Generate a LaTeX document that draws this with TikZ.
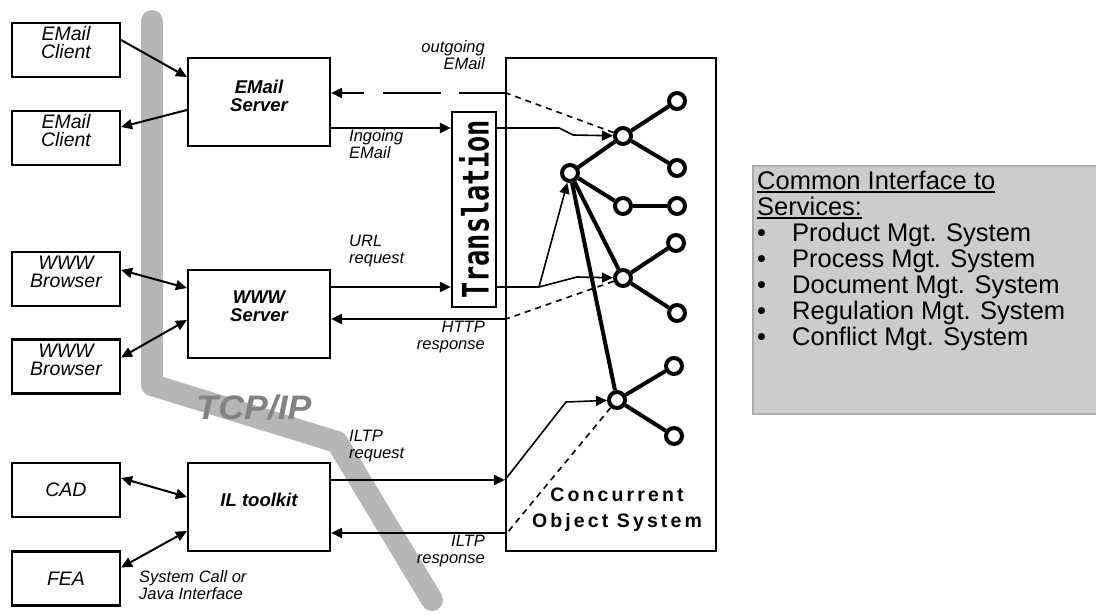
\documentclass[tikz,border=0pt]{standalone}
\usepackage{fontspec}
\setmainfont{Liberation Sans}
\newfontfamily\cosfont[LetterSpace=16]{Liberation Sans}
\newfontfamily\transfont{DejaVu Sans Mono}
\usetikzlibrary{arrows.meta,calc}
\definecolor{tcpband}{RGB}{182,182,182}
\definecolor{tcptext}{RGB}{130,130,130}
\definecolor{infofill}{RGB}{204,204,204}
\definecolor{infoline}{RGB}{172,172,172}
\newcommand{\ulin}[1]{\setbox0\hbox{#1}\rlap{\rule[-3.5pt]{\wd0}{2pt}}\box0}
\newcommand{\bul}{\makebox[35pt][l]{\textbullet}}

\begin{document}
\begin{tikzpicture}[
    x=1pt, y=-1pt,
    >={Triangle[length=11pt,width=10pt]},
    box/.style={draw, line width=2.2pt, inner sep=0pt, minimum width=108pt, minimum height=54pt},
    server/.style={box, minimum width=142pt, minimum height=88pt},
    boxtext/.style={inner sep=0pt, align=center, font=\fontsize{19.5}{18}\selectfont\itshape},
    srvtext/.style={inner sep=0pt, align=center, font=\fontsize{18.5}{18.5}\selectfont\bfseries\itshape},
    lbl/.style={inner sep=0pt, font=\fontsize{16.5}{17}\selectfont\itshape},
    arrow/.style={line width=2pt},
    link/.style={line width=1.6pt},
    dlink/.style={line width=1.6pt, dash pattern=on 6pt off 5pt},
    obj/.style={circle, draw, fill=white, line width=4pt, inner sep=0pt, minimum size=16pt},
    tree/.style={line width=4pt}
]
    \useasboundingbox (0,0) rectangle (1096,615);

    % TCP/IP backbone
    \draw[tcpband, line width=22pt, line cap=round, line join=round]
        (152,21) -- (152,385) -- (337,442) -- (432,600);
    \node[inner sep=0pt, text=tcptext, xscale=1.05, font=\fontsize{34}{34}\selectfont\bfseries\itshape] (tcp) at (254,408) {TCP/IP};

    % Clients
    \node[box, label={[boxtext, yshift=7pt]center:{EMail\\Client}}] (ec1) at (66,50) {};
    \node[box, label={[boxtext, yshift=7pt]center:{EMail\\Client}}] (ec2) at (66,138) {};
    \node[box, label={[boxtext, yshift=7pt]center:{WWW\\Browser}}] (wb1) at (66,279) {};
    \node[box, label={[boxtext, yshift=7pt]center:{WWW\\Browser}}] (wb2) at (66,366.5) {};
    \node[box, label={[boxtext]center:CAD}] (cad) at (66,490) {};
    \node[box, label={[boxtext]center:FEA}] (fea) at (66,578.5) {};

    % Servers
    \node[server, label={[srvtext, yshift=6pt]center:{EMail\\Server}}] (esrv) at (259,102) {};
    \node[server, label={[srvtext, yshift=8pt]center:{WWW\\Server}}] (wsrv) at (259,314) {};
    \node[server, label={[srvtext, yshift=7pt]center:{IL toolkit}}] (ilt) at (259,507) {};

    % Translation
    \node[draw, line width=2.2pt, inner sep=0pt, minimum width=44pt, minimum height=195pt] (trans) at (474,209.5)
        {\rotatebox{90}{\transfont\bfseries\fontsize{27}{27}\selectfont\scalebox{1}[1.35]{Translation}}};

    % Concurrent object system
    \node[draw, line width=2.2pt, minimum width=210pt, minimum height=493pt] (cos) at (611,304.5) {};
    \node[align=center, inner sep=0pt, font=\cosfont\bfseries\fontsize{19.5}{26}\selectfont] (costext) at (617,510) {Concurrent\\Object System};

    % Objects
    \node[obj] (root) at (570,173) {};
    \node[obj] (ea) at (623,136) {};
    \node[obj] (ea1) at (677,101) {};
    \node[obj] (ea2) at (677,168) {};
    \node[obj] (mid) at (623,206) {};
    \node[obj] (mid1) at (677,206) {};
    \node[obj] (ww) at (623,278) {};
    \node[obj] (ww1) at (676,243) {};
    \node[obj] (ww2) at (677,313) {};
    \node[obj] (il) at (617,400) {};
    \node[obj] (il1) at (674,366) {};
    \node[obj] (il2) at (674,436) {};
    \draw[tree] (root) -- (ea);
    \draw[tree] (ea) -- (ea1);
    \draw[tree] (ea) -- (ea2);
    \draw[tree] (root) -- (mid);
    \draw[tree] (mid) -- (mid1);
    \draw[tree] (root) -- (ww);
    \draw[tree] (ww) -- (ww1);
    \draw[tree] (ww) -- (ww2);
    \draw[tree] (root) -- (il);
    \draw[tree] (il) -- (il1);
    \draw[tree] (il) -- (il2);

    % Services
    \node[draw=infoline, fill=infofill, line width=2pt, inner sep=0pt, minimum width=345pt, minimum height=248pt, anchor=north west] (info) at (752,165) {};
    \node[anchor=north west, align=left, inner sep=0pt, font=\fontsize{25.5}{26}\selectfont] (infotext) at (757,171)
        {\ulin{Common Interface to}\\\ulin{Services:}\\\bul Product Mgt. System\\\bul Process Mgt. System\\
         \bul Document Mgt. System\\\bul Regulation Mgt. System\\\bul Conflict Mgt. System};

    % Client arrows
    \draw[arrow, ->] ([yshift=10pt]ec1.east) -- ([yshift=25pt]esrv.west);
    \draw[arrow, ->] ([yshift=-8pt]esrv.west) -- ([yshift=11pt]ec2.east);
    \draw[arrow, <->] ([yshift=9pt]wb1.east) -- ([yshift=26pt]wsrv.west);
    \draw[arrow, <->] ([yshift=9pt]wb2.east) -- ([yshift=-6pt]wsrv.west);
    \draw[arrow, <->] ([yshift=12pt]cad.east) -- ([yshift=10pt]ilt.west);
    \draw[arrow, <->] ([yshift=11pt]fea.east) -- ([yshift=-24pt]ilt.west);

    % EMail
    \coordinate (outgo) at (506,93);
    \draw[dlink] (ea) -- (outgo);
    \draw[arrow, <-, dash pattern=on 22pt off 19pt on 58pt off 18pt on 70pt] (outgo -| esrv.east) -- (outgo);
    \coordinate (mailin) at ([yshift=-26pt]esrv.east);
    \draw[arrow, ->] (mailin) -- (mailin -| trans.west);
    \coordinate (mailout) at ([yshift=81.5pt]trans.east);
    \draw[link, ->] (mailout) -- ++(62,0) -- ++(14,7) -- (ea);

    % WWW
    \coordinate (urlin) at ([yshift=27pt]wsrv.east);
    \draw[arrow, ->] (urlin) -- (urlin -| trans.west);
    \coordinate (urlout) at ([yshift=-77.5pt]trans.east);
    \coordinate (split) at (539,287);
    \draw[link] (urlout) -- (split);
    \draw[link, ->] (split) -- (root);
    \draw[link, ->] (split) -- ++(38,-10) -- (ww);
    \coordinate (httpin) at (506,319);
    \draw[dlink] (ww) -- (httpin);
    \draw[arrow, ->] (httpin) -- (httpin -| wsrv.east);

    % ILTP
    \coordinate (iltpin) at ([yshift=27pt]ilt.east);
    \draw[arrow, ->] (iltpin) -- (iltpin -| cos.west);
    \draw[link, ->] (iltpin -| cos.west) -- (566,402) -- (il);
    \coordinate (iltpout) at (507,533);
    \draw[dlink] (il) -- (iltpout);
    \draw[arrow, ->] (iltpout) -- (iltpout -| ilt.east);

    % Labels
    \node[lbl, align=right, anchor=north east] (outlbl) at (485,40) {outgoing\\EMail};
    \node[lbl, align=left, anchor=north west] (inlbl) at (349,129) {Ingoing\\EMail};
    \node[lbl, align=left, anchor=north west] (urllbl) at (349,235) {URL\\request};
    \node[lbl, align=right, anchor=north east] (httplbl) at (485,321) {HTTP\\response};
    \node[lbl, align=left, anchor=north west] (reqlbl) at (349,430) {ILTP\\request};
    \node[lbl, align=right, anchor=north east] (reslbl) at (485,535) {ILTP\\response};
    \node[lbl, align=left, anchor=north west] (syslbl) at (139,570) {System Call or\\Java Interface};
\end{tikzpicture}
\end{document}
